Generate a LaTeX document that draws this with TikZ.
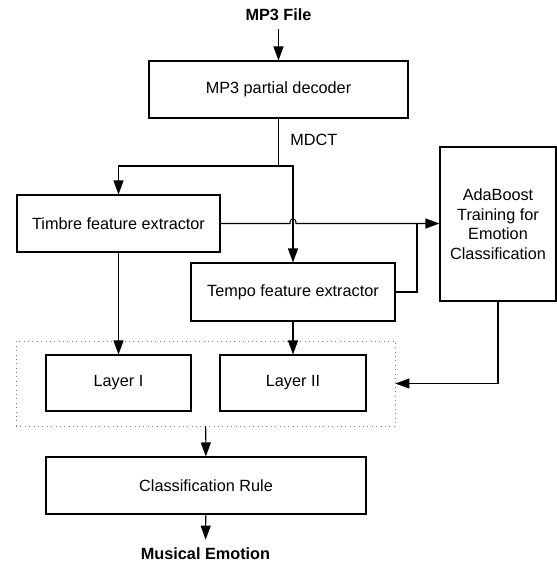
\documentclass[tikz,border=0pt]{standalone}
\usepackage{fontspec}
\setmainfont{Liberation Sans}
\usetikzlibrary{arrows.meta}
\begin{document}
\begin{tikzpicture}[x=0.02cm,y=-0.02cm,
  font=\fontsize{9.25}{11.1}\selectfont,
  boxsize/.style 2 args={minimum width=#1*0.02cm,minimum height=#2*0.02cm},
  blk/.style={draw,line width=0.6pt,inner sep=0pt,align=center},
  grp/.style={draw,dotted,gray,line width=0.5pt,inner sep=0pt},
  lbl/.style={inner sep=0pt},
  link/.style={line width=0.6pt},
  flow/.style={link,-{Triangle[length=2.8mm,width=2mm]}}]
\useasboundingbox (0,0) rectangle (557,562);
\node[lbl,font=\fontsize{9.25}{11.1}\selectfont\bfseries] (file) at (278.5,15) {MP3 File};
\node[blk,boxsize={259}{57}] (dec) at (278.5,89.5) {MP3 partial decoder};
\node[lbl,anchor=west] (mdct) at (290,140) {MDCT};
\node[blk,boxsize={203}{57}] (timbre) at (118.5,223.5) {Timbre feature extractor};
\node[blk,boxsize={204}{58}] (tempo) at (293,292) {Tempo feature extractor};
\node[blk,boxsize={116}{154}] (ada) at (498,224) {AdaBoost\\Training for\\Emotion\\Classification};
\node[grp,boxsize={379}{85}] (layers) at (205.5,383.5) {};
\node[blk,boxsize={145}{56}] (l1) at (118.5,383) {Layer I};
\node[blk,boxsize={146}{56}] (l2) at (293,383) {Layer II};
\node[blk,boxsize={320}{57}] (rule) at (206,485.5) {Classification Rule};
\node[lbl,font=\fontsize{9.25}{11.1}\selectfont\bfseries] (emo) at (205.5,554) {Musical Emotion};
\coordinate (split) at (278.5,166);
\coordinate (join) at (417,223.5);
\draw[flow,shorten <=1.5mm] (file) -- (dec);
\draw[link] (dec) -- (split);
\draw[flow] (split) -| (timbre.north);
\draw[flow] (split) -| (tempo.north);
\draw[flow] (timbre.east) -- (290,223.5) .. controls (290,217) and (296,217) .. (296,223.5) -- (timbre.east -| ada.west);
\draw[link] (tempo.east) -| (join);
\draw[flow] (timbre) -- (l1);
\draw[flow] (tempo) -- (l2);
\draw[flow] (ada.south) |- (layers.east);
\draw[flow] (layers) -- (rule);
\draw[flow,shorten >=1.6mm] (rule) -- (emo);
\end{tikzpicture}
\end{document}
